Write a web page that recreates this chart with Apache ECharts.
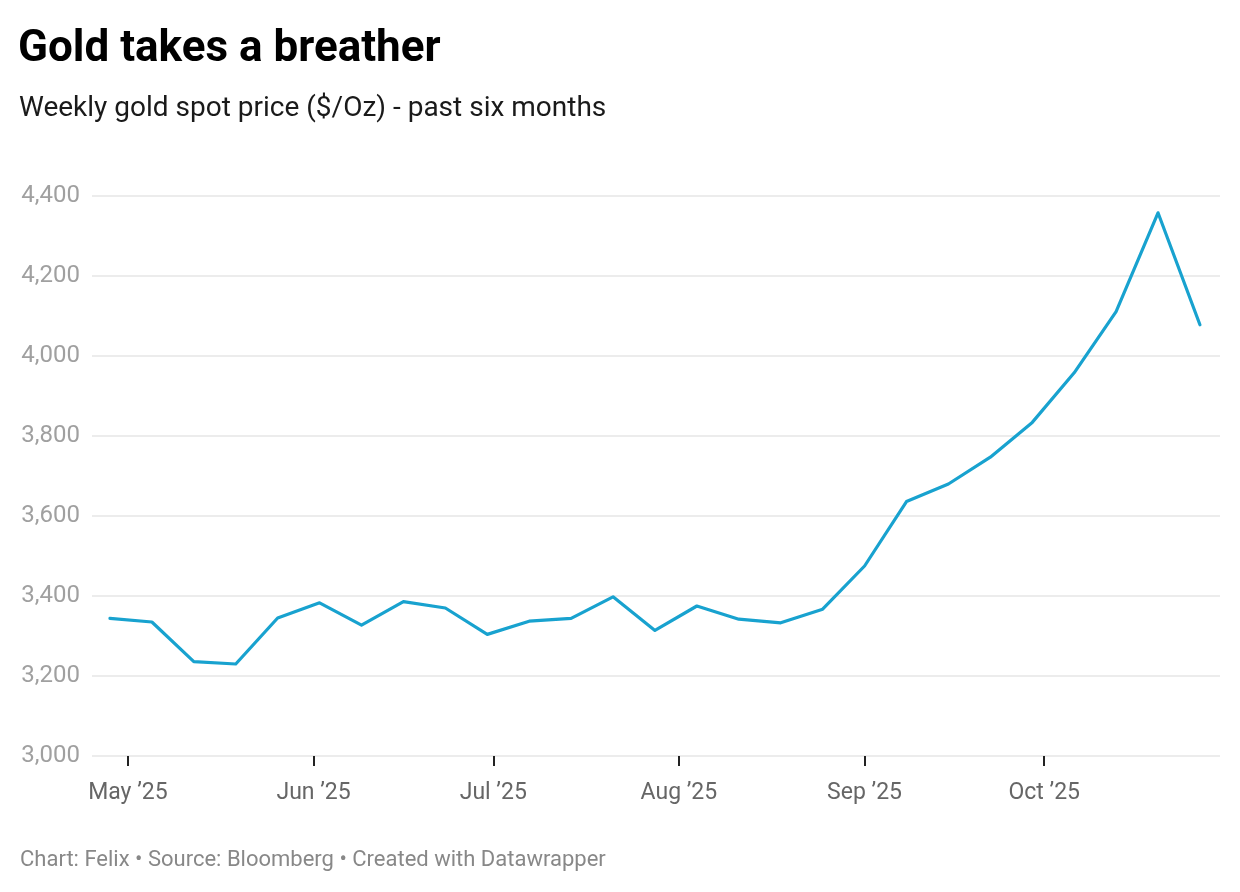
<!DOCTYPE html>
<html>
<head>
<meta charset="utf-8">
<script src="https://cdn.jsdelivr.net/npm/echarts@6/dist/echarts.min.js"></script>
<style>
html,body{margin:0;padding:0;background:#fff;}
#chart{width:1240px;height:892px;}
</style>
</head>
<body>
<div id="chart"></div>
<script>
// Weekly dates (Mondays)
const dates = [
  '2025-04-28','2025-05-05','2025-05-12','2025-05-19','2025-05-26',
  '2025-06-02','2025-06-09','2025-06-16','2025-06-23','2025-06-30',
  '2025-07-07','2025-07-14','2025-07-21','2025-07-28','2025-08-04',
  '2025-08-11','2025-08-18','2025-08-25','2025-09-01','2025-09-08',
  '2025-09-15','2025-09-22','2025-09-29','2025-10-06','2025-10-13',
  '2025-10-20','2025-10-27'
];
// Gold spot price ($/Oz)
const prices = [
  3344, 3335, 3236, 3230, 3345,
  3383, 3327, 3386, 3370, 3304,
  3337, 3344, 3398, 3314, 3375,
  3342, 3333, 3367, 3475, 3636,
  3680, 3747, 3834, 3958, 4111,
  4358, 4078
];
// Month tick positions
const monthTicks = ['2025-05-01','2025-06-01','2025-07-01','2025-08-01','2025-09-01','2025-10-01'];
const monthNames = ['Jan','Feb','Mar','Apr','May','Jun','Jul','Aug','Sep','Oct','Nov','Dec'];
const yMin = 3000, yMax = 4400, yStep = 200;

const titleText = 'Gold takes a breather';
const subtitleText = 'Weekly gold spot price ($/Oz) - past six months';
const footerText = 'Chart: Felix \u2022 Source: Bloomberg \u2022 Created with Datawrapper';

const DAY = 86400000;
function ts(s){ const p = s.split('-').map(Number); return Date.UTC(p[0], p[1]-1, p[2]); }
const tickVals = monthTicks.map(ts);

const chart = echarts.init(document.getElementById('chart'));

chart.setOption({
  backgroundColor: '#fff',
  animation: false,
  textStyle: { fontFamily: 'Roboto' },
  title: [
    { text: titleText, left: 18, top: 26, padding: 0,
      textStyle: { fontFamily: 'Roboto', fontWeight: 'bold', fontSize: 44, color: '#000', lineHeight: 48 } },
    { text: subtitleText, left: 19, top: 93, padding: 0,
      textStyle: { fontFamily: 'Roboto', fontWeight: 'normal', fontSize: 28, color: '#1a1a1a', lineHeight: 32 } },
    { text: footerText, left: 20, top: 847, padding: 0,
      textStyle: { fontFamily: 'Roboto', fontWeight: 'normal', fontSize: 22, color: '#888', lineHeight: 26 } }
  ],
  grid: { left: 92, right: 20, top: 196, bottom: 136, containLabel: false },
  xAxis: {
    type: 'value',
    min: ts('2025-04-28') - 3 * DAY,
    max: ts('2025-10-27') + 3.35 * DAY,
    axisLine: { show: false },
    splitLine: { show: false },
    axisTick: { show: true, length: 10, customValues: tickVals,
      lineStyle: { color: '#222', width: 2 } },
    axisLabel: {
      customValues: tickVals,
      margin: 26,
      fontSize: 23,
      color: '#666',
      fontFamily: 'Roboto',
      formatter: function (v) {
        const d = new Date(v);
        return monthNames[d.getUTCMonth()] + ' \u2019' + String(d.getUTCFullYear()).slice(2);
      }
    }
  },
  yAxis: {
    type: 'value',
    min: yMin, max: yMax, interval: yStep,
    axisLine: { show: false },
    axisTick: { show: false },
    axisLabel: {
      margin: 12, fontSize: 24, color: '#a0a0a0', fontFamily: 'Roboto',
      formatter: function (v) { return v.toLocaleString('en-US'); }
    },
    splitLine: { show: true, lineStyle: { color: '#e6e6e6', width: 1.5 } }
  },
  series: [{
    type: 'line',
    data: dates.map((d, i) => [ts(d), prices[i]]),
    showSymbol: false,
    symbol: 'none',
    lineStyle: { color: '#18a2cf', width: 3.2, cap: 'round', join: 'round' },
    itemStyle: { color: '#18a2cf' }
  }]
});
</script>
</body>
</html>
